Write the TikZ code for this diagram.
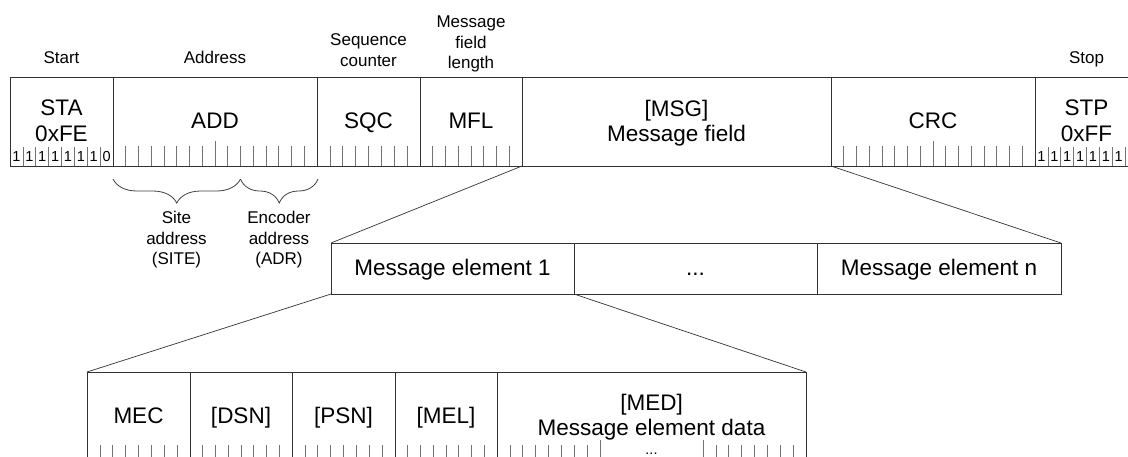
\documentclass[tikz,border=0pt]{standalone}
\usepackage{fontspec}
\setmainfont{Liberation Sans}
\usetikzlibrary{decorations.pathreplacing}
\begin{document}
\begin{tikzpicture}[x=1pt,y=-1pt,
  field/.style={draw=black!80, line width=0.8pt, inner sep=0pt, outer sep=0pt, rectangle},
  big/.style={font=\fontsize{22.5}{26}\selectfont, inner sep=0pt, anchor=base},
  small/.style={font=\fontsize{17}{20.7}\selectfont, inner sep=0pt, align=center},
  bitfont/.style={font=\fontsize{14.5}{14}\selectfont, inner sep=0pt, anchor=base},
  tick/.style={draw=black!55, line width=0.7pt},
  conn/.style={draw=black!80, line width=0.7pt},
  bracestyle/.style={draw=black!75, line width=0.8pt, decorate, decoration={brace, mirror, amplitude=24pt}},
]
\useasboundingbox (0,0) rectangle (1128,456);
\clip (0,0) rectangle (1128,456);

% ---------- top row ----------
\node[field, minimum width=103pt, minimum height=89pt] (STA) at (61.5,121.5) {};
\node[field, minimum width=204pt, minimum height=89pt] (ADD) at (215,121.5) {};
\node[field, minimum width=103pt, minimum height=89pt] (SQC) at (368.5,121.5) {};
\node[field, minimum width=102pt, minimum height=89pt] (MFL) at (471,121.5) {};
\node[field, minimum width=309pt, minimum height=89pt] (MSG) at (676.5,121.5) {};
\node[field, minimum width=204pt, minimum height=89pt] (CRC) at (933,121.5) {};
\node[field, minimum width=103pt, minimum height=89pt] (STP) at (1086.5,121.5) {};

% labels above
\node[small, anchor=base] (lStart) at (61.5,63) {Start};
\node[small, anchor=base] (lAddr) at (215,63) {Address};
\node[small, anchor=north] (lSeq) at (368.5,33.6) {Sequence\\counter};
\node[small, anchor=north] (lMfl) at (471,15.5) {Message\\field\\length};
\node[small, anchor=base] (lStop) at (1086.5,63) {Stop};

% texts in boxes
\node[big] (tSTA) at (61.5,115) {STA};
\node[big] (tSTAv) at (61.5,141.7) {0xFE};
\node[big] (tADD) at (215,128.3) {ADD};
\node[big] (tSQC) at (368.5,128.3) {SQC};
\node[big] (tMFL) at (471,128.3) {MFL};
\node[big] (tMSG) at (676.5,116.7) {[MSG]};
\node[big] (tMSGb) at (676.5,141.7) {Message field};
\node[big] (tCRC) at (933,128.3) {CRC};
\node[big] (tSTP) at (1086.5,115) {STP};
\node[big] (tSTPv) at (1086.5,141.7) {0xFF};

% bits of STA and STP
\foreach \d [count=\i from 0] in {1,1,1,1,1,1,1,0}
  \node[bitfont] (sta\i) at (10+12.875*\i+6.44,161.5) {\d};
\foreach \d [count=\i from 0] in {1,1,1,1,1,1,1}
  \node[bitfont] (stp\i) at (1035+12.875*\i+6.44,161.5) {\d};
\foreach \k in {1,...,7} {
  \draw[tick] (10+12.875*\k,147) -- (10+12.875*\k,166);
  \draw[tick] (1035+12.875*\k,147) -- (1035+12.875*\k,166);
}

% ticks
\foreach \k in {1,...,15} {
  \draw[tick] (113+12.75*\k,146) -- (113+12.75*\k,166);
  \draw[tick] (831+12.75*\k,146) -- (831+12.75*\k,166);
}
\draw[tick] (215,141) -- (215,166);
\draw[tick] (933,141) -- (933,166);
\foreach \k in {1,...,7} {
  \draw[tick] (317+12.875*\k,146) -- (317+12.875*\k,166);
  \draw[tick] (420+12.75*\k,146) -- (420+12.75*\k,166);
}

% braces under address
\coordinate (siteL) at (113,179);
\coordinate (siteR) at (240.5,179);
\coordinate (adrR) at (318,179);
\draw[bracestyle] (siteL) -- (siteR);
\draw[bracestyle] (siteR) -- (adrR);
\node[small, anchor=north] (lSite) at (176.5,211) {Site\\address\\(SITE)};
\node[small, anchor=north] (lAdr) at (279,211) {Encoder\\address\\(ADR)};

% ---------- middle row ----------
\node[field, minimum width=243pt, minimum height=51pt] (ME1) at (452.5,268.5) {};
\node[field, minimum width=243pt, minimum height=51pt] (MEd) at (695.5,268.5) {};
\node[field, minimum width=244pt, minimum height=51pt] (MEn) at (939,268.5) {};
\node[big] (tME1) at (452.5,275) {Message element 1};
\node[big] (tMEd) at (695.5,275) {...};
\node[big] (tMEn) at (939,275) {Message element n};

\draw[conn] (MSG.south west) -- (ME1.north west);
\draw[conn] (MSG.south east) -- (MEn.north east);

% ---------- bottom row ----------
\node[field, minimum width=103pt, minimum height=94pt] (MEC) at (138.5,419) {};
\node[field, minimum width=102pt, minimum height=94pt] (DSN) at (241,419) {};
\node[field, minimum width=103pt, minimum height=94pt] (PSN) at (343.5,419) {};
\node[field, minimum width=102pt, minimum height=94pt] (MEL) at (446,419) {};
\node[field, minimum width=309pt, minimum height=94pt] (MED) at (651.5,419) {};

\node[big] (tMEC) at (138.5,423) {MEC};
\node[big] (tDSN) at (241,423) {[DSN]};
\node[big] (tPSN) at (343.5,423) {[PSN]};
\node[big] (tMEL) at (446,423) {[MEL]};
\node[big] (tMED) at (651.5,410) {[MED]};
\node[big] (tMEDb) at (651.5,435) {Message element data};
\node[bitfont] (tMEDdots) at (651.5,454.5) {...};

\draw[conn] (ME1.south west) -- (MEC.north west);
\draw[conn] (ME1.south east) -- (MED.north east);

\foreach \k in {1,...,7} {
  \draw[tick] (87+12.875*\k,445) -- (87+12.875*\k,466);
  \draw[tick] (190+12.75*\k,445) -- (190+12.75*\k,466);
  \draw[tick] (292+12.875*\k,445) -- (292+12.875*\k,466);
  \draw[tick] (395+12.75*\k,445) -- (395+12.75*\k,466);
  \draw[tick] (497+12.875*\k,445) -- (497+12.875*\k,466);
  \draw[tick] (703+12.875*\k,445) -- (703+12.875*\k,466);
}
\draw[tick] (600,440) -- (600,466);
\draw[tick] (703,440) -- (703,466);
\end{tikzpicture}
\end{document}
